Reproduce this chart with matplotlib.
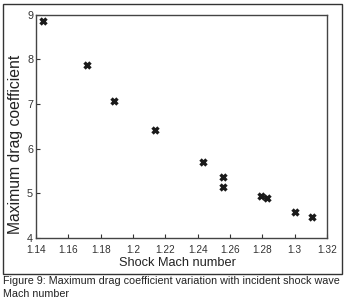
import matplotlib.pyplot as plt
from matplotlib.patches import Rectangle

# data
mach = [1.1445, 1.1717, 1.1880, 1.2138, 1.2432, 1.2557, 1.2557, 1.2791, 1.2829, 1.3004, 1.3109]
cd_max = [8.86, 7.86, 7.07, 6.41, 5.70, 5.36, 5.14, 4.93, 4.89, 4.59, 4.46]
xticks = [1.14, 1.16, 1.18, 1.2, 1.22, 1.24, 1.26, 1.28, 1.3, 1.32]
xticklabels = ["1.14", "1.16", "1.18", "1.2", "1.22", "1.24", "1.26", "1.28", "1.3", "1.32"]
yticks = [4, 5, 6, 7, 8, 9]

plt.rcParams['font.family'] = ['Liberation Sans', 'DejaVu Sans']

fig = plt.figure(figsize=(3.48, 3.03), dpi=100)
ax = fig.add_axes([0.1034, 0.2145, 0.8363, 0.7375])

ax.plot(mach, cd_max, linestyle='none', marker='x', color='#1a1a1a',
        markersize=4.5, markeredgewidth=2.4)

ax.set_xlim(1.14, 1.32)
ax.set_ylim(4, 9)
ax.set_xticks(xticks)
ax.set_xticklabels(xticklabels)
ax.set_yticks(yticks)
ax.tick_params(direction='in', length=3, width=0.8, labelsize=7.3,
               colors='#333333')
ax.tick_params(axis='x', pad=5)
ax.tick_params(axis='y', pad=2, labelsize=7.8)
for s in ax.spines.values():
    s.set_color('#444444')
    s.set_linewidth(1.0)

ax.set_xlabel("Shock Mach number", fontsize=9.2, color='#222222', va='center')
ax.set_ylabel("Maximum drag coefficient", fontsize=11.3, color='#222222', va='center')
ax.xaxis.set_label_coords(0.4845, -0.11)
ax.yaxis.set_label_coords(-0.072, 0.418)

# outer border around the plot
fig.patches.append(Rectangle((0.0086, 0.0957), 0.9744, 0.8913, transform=fig.transFigure,
                             fill=False, edgecolor='#333333', linewidth=1.0))

fig.text(0.0086, 0.089, "Figure 9: Maximum drag coefficient variation with incident shock wave\nMach number",
         fontsize=7.75, color='#222222', va='top', ha='left', linespacing=1.35)

fig.savefig("out.png", dpi=100)
